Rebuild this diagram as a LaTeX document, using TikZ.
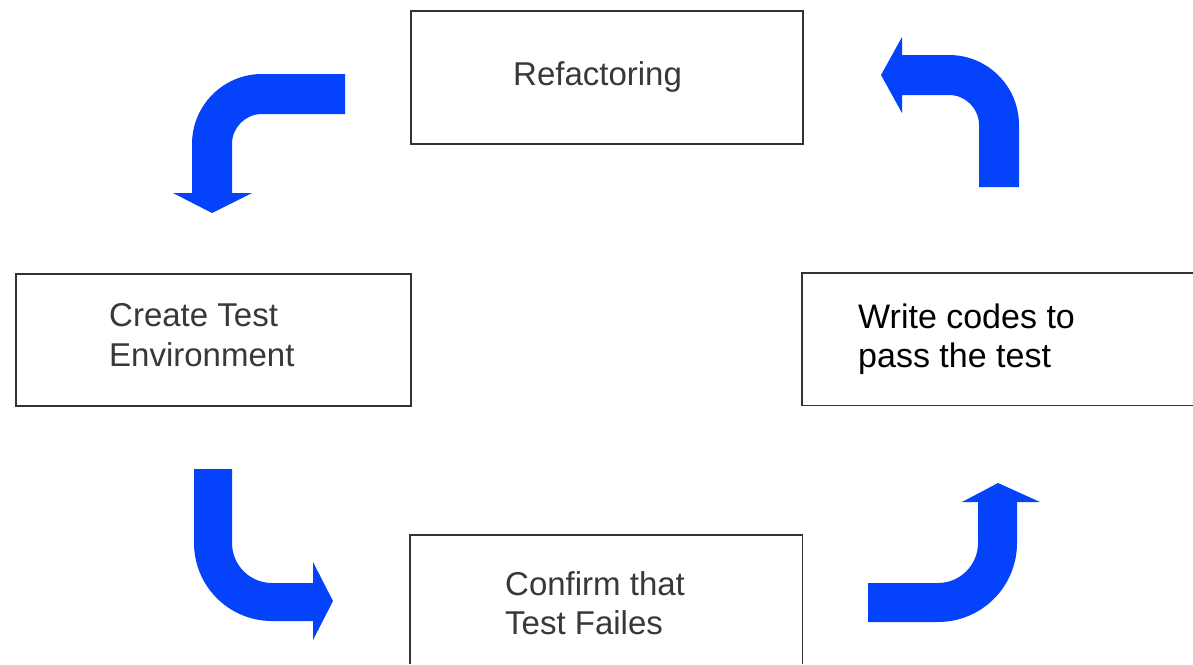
\documentclass[tikz,border=0pt]{standalone}
\usepackage{fontspec}
\setmainfont{Liberation Sans}
\begin{document}
\begin{tikzpicture}[x=1pt,y=-1pt,
  boxline/.style={draw=black!80,line width=1.8pt},
  blockarrow/.style={fill=arrowblue,draw=none},
  lbl/.style={anchor=base west,inner sep=0pt,text=black!78,font=\fontsize{33}{40}\selectfont},
  lblk/.style={lbl,text=black,font=\fontsize{34}{40}\selectfont}]
\definecolor{arrowblue}{RGB}{4,66,252}
\useasboundingbox (0,0) rectangle (1193,664);
\fill[white] (0,0) rectangle (1193,664);

% boxes
\node[boxline,minimum width=392pt,minimum height=133pt,anchor=north west] (refac) at (410,10) {};
\node[boxline,minimum width=395pt,minimum height=132pt,anchor=north west] (create) at (15,273) {};
\node[minimum width=391pt,minimum height=132pt,anchor=north west,inner sep=0pt] (write) at (802,273) {};
\draw[boxline] (write.north east) -- (write.north west) -- (write.south west) -- (write.south east);
\node[minimum width=392pt,minimum height=129pt,anchor=north west,inner sep=0pt] (confirm) at (410,535) {};
\draw[boxline] (confirm.south west) -- (confirm.north west) -- (confirm.north east) -- (confirm.south east);

% labels
\node[lbl] (t1) at (513,85) {Refactoring};
\node[lbl] (t2a) at (109,326) {Create Test};
\node[lbl] (t2b) at (109,366) {Environment};
\node[lblk] (t3a) at (858,328) {Write codes to};
\node[lblk] (t3b) at (858,367) {pass the test};
\node[lbl] (t4a) at (505,595) {Confirm that};
\node[lbl] (t4b) at (505,634) {Test Failes};

% block arrows
\fill[blockarrow] (345,74) -- (262,74) arc[start angle=270,end angle=180,radius=70]
  -- (192,193) -- (173,193) -- (212,213) -- (252,193) -- (232,193) -- (232,144)
  arc[start angle=180,end angle=270,radius=30] -- (345,114) -- cycle;

\fill[blockarrow] (1019,187) -- (1019,125) arc[start angle=0,end angle=-90,radius=70]
  -- (902,55) -- (902,37) -- (881,75) -- (902,113) -- (902,95) -- (949,95)
  arc[start angle=270,end angle=360,radius=30] -- (979,187) -- cycle;

\fill[blockarrow] (194,469) -- (194,543) arc[start angle=180,end angle=90,radius=78]
  -- (313,621) -- (313,640) -- (333,601) -- (313,562) -- (313,583) -- (272,583)
  arc[start angle=90,end angle=180,radius=40] -- (232,469) -- cycle;

\fill[blockarrow] (868,583) -- (938,583) arc[start angle=90,end angle=0,radius=40]
  -- (978,502) -- (962,502) -- (998,483) -- (1040,502) -- (1017,502) -- (1017,543)
  arc[start angle=0,end angle=90,radius=79] -- (868,622) -- cycle;
\end{tikzpicture}
\end{document}
